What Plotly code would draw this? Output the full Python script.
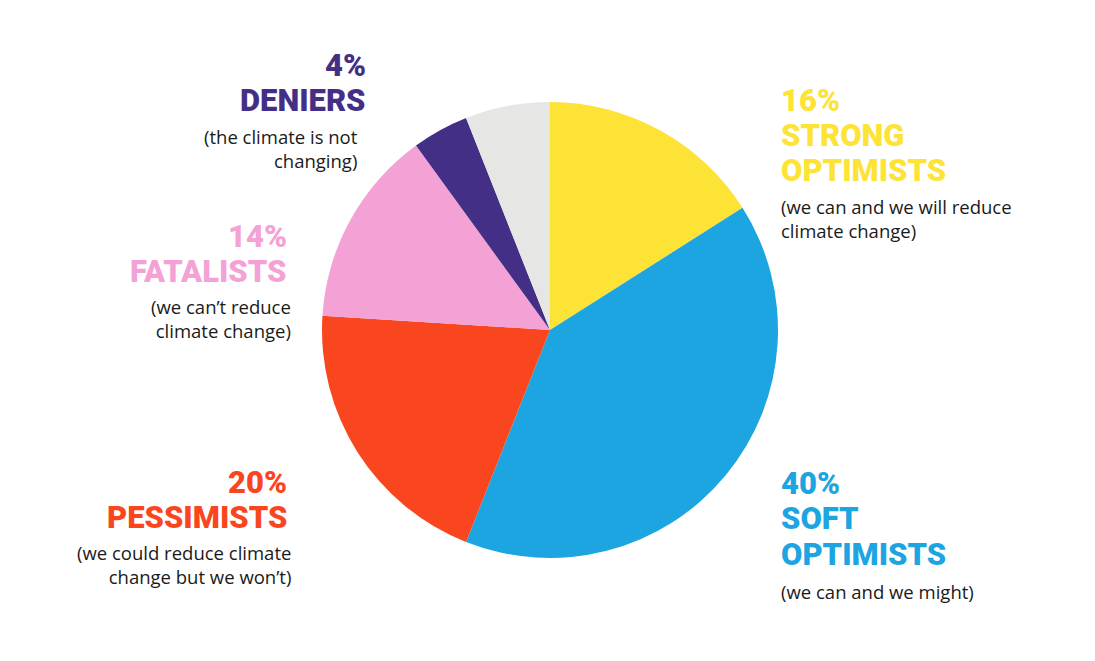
import plotly.graph_objects as go

categories = ["Strong optimists", "Soft optimists", "Pessimists", "Fatalists", "Deniers", "Other"]
values = [16, 40, 20, 14, 4, 6]
colors = ["#FDE335", "#1DA5E1", "#F9461F", "#F4A2D5", "#442F86", "#E6E6E4"]

pct_labels = ["16%", "40%", "20%", "14%", "4%"]
title_lines = [["STRONG", "OPTIMISTS"], ["SOFT", "OPTIMISTS"], ["PESSIMISTS"], ["FATALISTS"], ["DENIERS"]]
sub_lines = [
    ["(we can and we will reduce", "climate change)"],
    ["(we can and we might)"],
    ["(we could reduce climate", "change but we won\u2019t)"],
    ["(we can\u2019t reduce", "climate change)"],
    ["(the climate is not", "changing)"],
]

W, H = 1095, 661
cx, cy, r = 550, 330, 228

fig = go.Figure(go.Pie(
    labels=categories, values=values, sort=False, direction="clockwise",
    rotation=0, marker=dict(colors=colors, line=dict(width=0)),
    textinfo="none", hoverinfo="label+percent", showlegend=False,
    domain=dict(x=[(cx - r) / W, (cx + r) / W], y=[1 - (cy + r) / H, 1 - (cy - r) / H]),
))

# block layout: (anchor x px, xanchor, first header line y px, header spacing)
blocks = [
    (779, "left", 100, 35),
    (779, "left", 483, 35.5),
    (289, "right", 482.5, 34.5),
    (289, "right", 236.5, 34.5),
    (368, "right", 65.5, 35),
]
sub_x_right = {2: 293, 3: 293, 4: 360}

head_font = "Roboto"
sub_font = "Open Sans"
sub_size = 18.5
anns = []
for i, (x, xa, y0, dy) in enumerate(blocks):
    lines = [pct_labels[i]] + title_lines[i]
    y = y0
    for ln in lines:
        anns.append(dict(x=x / W, y=1 - y / H, xref="paper", yref="paper", text=ln,
                         showarrow=False, xanchor=xa, yanchor="middle",
                         font=dict(family=head_font, size=31, color=colors[i], weight=900)))
        y += dy
    y += 2
    sx = sub_x_right.get(i, x)
    n = len(sub_lines[i])
    ymid = y + (n - 1) * 22.5 / 2
    anns.append(dict(x=sx / W, y=1 - ymid / H, xref="paper", yref="paper",
                     text="<br>".join(sub_lines[i]), align=xa,
                     showarrow=False, xanchor=xa, yanchor="middle",
                     font=dict(family=sub_font, size=sub_size, color="#1a1a1a")))

fig.update_layout(
    width=W, height=H, margin=dict(l=0, r=0, t=0, b=0),
    paper_bgcolor="white", plot_bgcolor="white", annotations=anns,
)
fig.write_html("out.html", config={"displayModeBar": False},
               post_script="document.body.style.margin='0';")
